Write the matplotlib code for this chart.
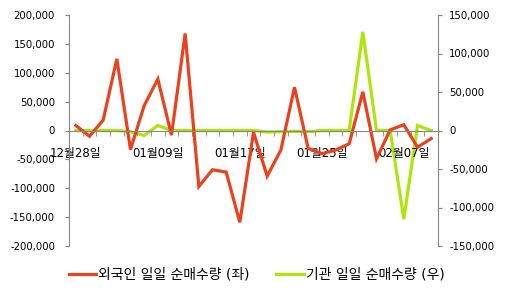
#importing modules
import numpy as np
from matplotlib import pyplot as plt
from matplotlib.ticker import FuncFormatter

#font setup: digits in DejaVu, hangul falls back to Noto CJK
plt.rcParams['font.family'] = ['DejaVu Sans', 'Noto Sans CJK KR']

#data
dates = ['12월28일', '', '', '', '', '', '01월09일', '', '', '', '', '', '01월17일', '', '', '', '', '',
         '01월25일', '', '', '', '', '', '02월07일', '', '']
foreign = [8600, -10000, 18000, 124000, -33000, 43000, 89000, -8000, 168000, -97000,
           -68000, -72000, -159000, -3000, -79000, -34000, 75000, -31000, -40000, -34000,
           -23000, 67000, -49000, 1000, 10000, -29000, -14000]
institution = [0, 0, 0, 0, -1500, -6500, 6500, 0, 0, 0,
               0, 0, 0, 0, -2000, -1500, -1000, -1500, 0, 0,
               0, 128000, 0, 0, -115000, 6500, 0]
foreign_label = '외국인 일일 순매수량 (좌)'
inst_label = '기관 일일 순매수량 (우)'

x = np.arange(len(dates))
grey = '#868686'

#sizing the plot
fig = plt.figure(figsize=(5.08, 2.94), dpi=100)
ax = fig.add_axes([69/508, 1-246/294, (438-69)/508, (246-15)/294])
ax2 = ax.twinx()
#left axes (red line + date labels) drawn above the right one
ax.set_zorder(ax2.get_zorder()+1)
ax.patch.set_visible(False)

#lines
l1, = ax.plot(x, foreign, color='#E8421E', lw=2.3, solid_joinstyle='miter')
l2, = ax2.plot(x, institution, color='#AEE60A', lw=2.3, solid_joinstyle='miter')

#limits
ax.set_xlim(-0.5, len(dates)-0.5)
ax.set_ylim(-200000, 200000)
ax2.set_ylim(-150000, 150000)
ax.set_yticks(np.arange(-200000, 200001, 50000))
ax2.set_yticks(np.arange(-150000, 150001, 50000))
ax.yaxis.set_major_formatter(FuncFormatter(lambda v, p: '{:,.0f}'.format(v)))
ax2.yaxis.set_major_formatter(FuncFormatter(lambda v, p: '{:,.0f}'.format(v)))

#spines
for s in ['top', 'right']:
    ax.spines[s].set_visible(False)
for s in ['top', 'bottom', 'left']:
    ax2.spines[s].set_visible(False)
ax.spines['left'].set_color(grey)
ax2.spines['right'].set_color(grey)
ax.spines['bottom'].set_position(('data', 0))
ax.spines['bottom'].set_color(grey)

#x ticks: labels every 6 days, small marks between categories
ax.set_xticks(x)
ax.set_xticklabels(dates)
ax.set_xticks(np.arange(-0.5, len(dates), 1), minor=True)
ax.tick_params(axis='x', which='major', length=0, pad=12, labelsize=8.5)
ax.tick_params(axis='x', which='minor', length=3.5, color=grey, direction='out')
ax.tick_params(axis='y', length=3, color=grey, pad=7, labelsize=7.3)
ax2.tick_params(axis='y', length=3, color=grey, pad=5, labelsize=7.3)

#legend at the bottom
fig.legend([l1, l2], [foreign_label, inst_label], loc='lower center',
           bbox_to_anchor=(0.505, 0.0), ncol=2, frameon=False, fontsize=10,
           handlelength=1.95, handletextpad=0.15, columnspacing=1.95)

#saving the graph
plt.savefig('out.png', dpi=100)
